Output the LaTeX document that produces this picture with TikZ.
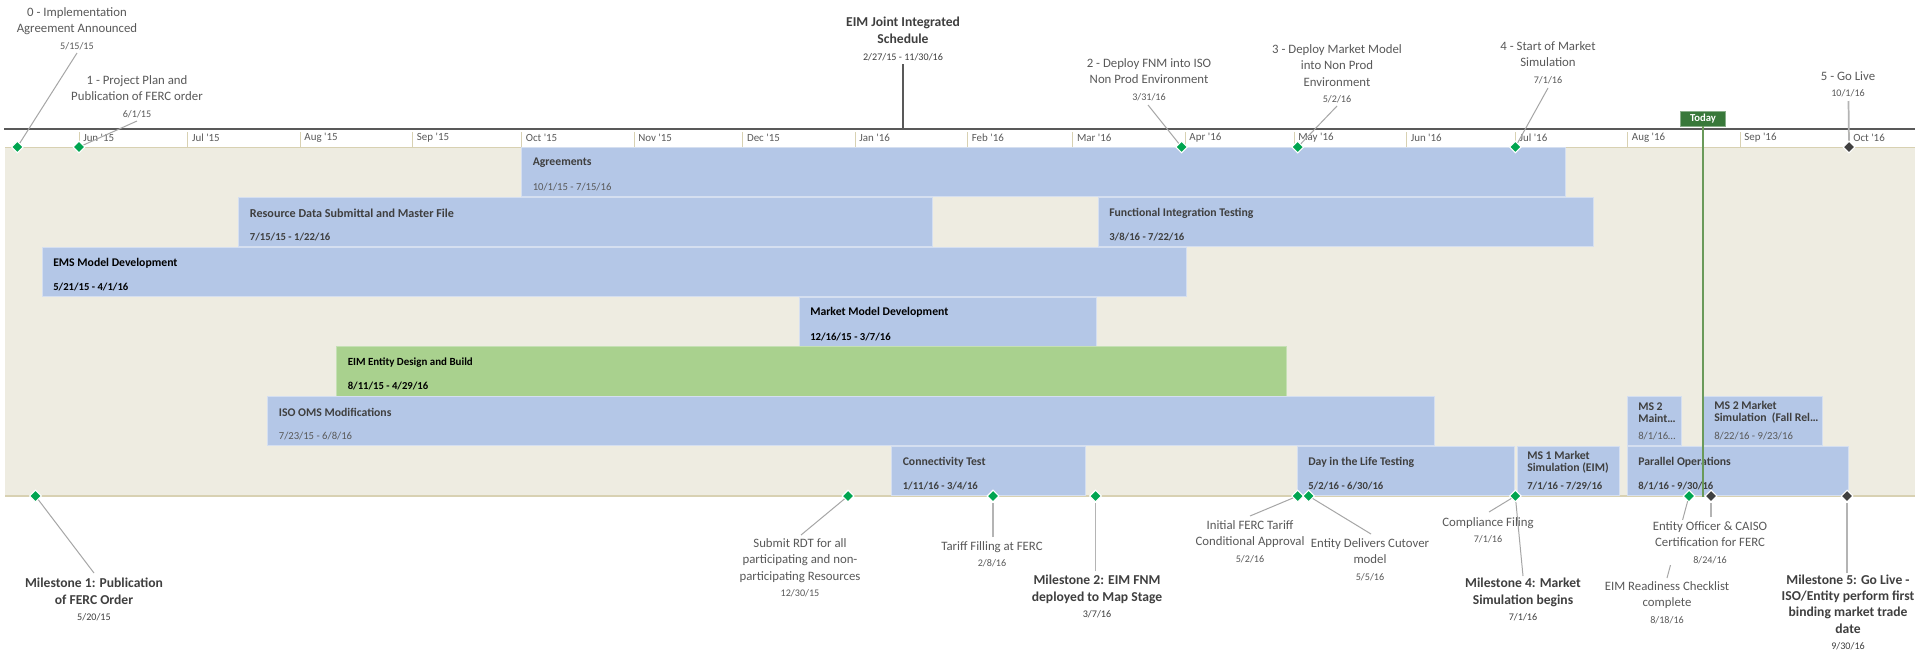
\documentclass[tikz,border=0pt]{standalone}
\usepackage{fontspec}
\setmainfont{Carlito}
\usetikzlibrary{shapes.geometric}
\definecolor{barblue}{HTML}{B4C7E7}
\definecolor{baredge}{HTML}{D5DFF0}
\definecolor{bargreen}{HTML}{A9D18E}
\definecolor{greenedge}{HTML}{C5E0B4}
\definecolor{panelbg}{HTML}{EEECE1}
\definecolor{tanline}{HTML}{D8D1B2}
\definecolor{msgreen}{HTML}{00A550}
\definecolor{msdark}{HTML}{404040}
\definecolor{todaybox}{HTML}{38783A}
\definecolor{todayline}{HTML}{6A9A5A}
\definecolor{txtgray}{HTML}{595959}
\definecolor{txtdark}{HTML}{3F3F3F}
\definecolor{leadgray}{HTML}{A6A6A6}
\definecolor{vgray}{HTML}{B4B4B4}
\definecolor{axisgray}{HTML}{595959}
\newcommand{\lbldate}[1]{{\fontsize{7.6}{12.4}\selectfont\mdseries #1}}
\newcommand{\qs}{\textquotesingle}
\begin{document}
\begin{tikzpicture}[x=0.75pt,y=-0.75pt,
  bar/.style={fill=barblue,draw=baredge,line width=0.5pt},
  gbar/.style={fill=bargreen,draw=greenedge,line width=0.5pt},
  btitle/.style={anchor=west,inner sep=0pt,text=txtdark,font=\fontsize{8.8}{9}\selectfont\bfseries},
  btitle2/.style={btitle,align=left},
  bdate/.style={anchor=west,inner sep=0pt,text=txtgray,font=\fontsize{8}{10}\selectfont},
  bdateb/.style={bdate,text=txtdark,font=\fontsize{8}{10}\selectfont\bfseries},
  msg/.style={diamond,aspect=1,fill=msgreen,draw=white,line width=0.8pt,inner sep=0pt,minimum width=9pt,minimum height=9pt},
  msd/.style={msg,fill=msdark},
  lbl/.style={align=center,inner sep=0pt,anchor=north,text=txtgray,font=\fontsize{9.6}{12.4}\selectfont},
  mlbl/.style={lbl,text=txtdark,font=\fontsize{10.2}{12.6}\selectfont\bfseries},
  leader/.style={draw=leadgray,line width=0.75pt},
  vleader/.style={draw=vgray,line width=1.3pt},
  monthlbl/.style={anchor=west,inner sep=0pt,text=txtgray,font=\fontsize{8.2}{10}\selectfont},
  tickline/.style={draw=tanline,line width=0.6pt},
]
\useasboundingbox (0,0) rectangle (1915,651);
\fill[white] (0,0) rectangle (1915,651);

% panel
\fill[panelbg] (5,147) rectangle (1915,496);
\draw[tanline,line width=0.75pt] (5,147) -- (1915,147);
\draw[tanline,line width=1pt] (5,496) -- (1915,496);

% axis
\draw[axisgray,line width=1.1pt] (4,129) -- (1915,129);
\foreach \x/\m [count=\i] in {79/Jun \qs15,187.8/Jul \qs15,300.2/Aug \qs15,412.7/Sep \qs15,521.5/Oct \qs15,634/Nov \qs15,742.8/Dec \qs15,855.2/Jan \qs16,967.6/Feb \qs16,1072.8/Mar \qs16,1185.2/Apr \qs16,1294/May \qs16,1406.5/Jun \qs16,1515.3/Jul \qs16,1627.7/Aug \qs16,1740.1/Sep \qs16,1849/Oct \qs16}{
  \draw[tickline] (\x,132) -- (\x,147);
  \node[monthlbl] (mo\i) at (\x+4,137.5) {\m};
}

% row 1
\path[bar] (521.5,147.5) rectangle (1565,196.6);
\node[btitle] (tAgr) at (532.5,163) {Agreements};
\node[bdate] (dAgr) at (532.5,187) {10/1/15 - 7/15/16};
% row 2
\path[bar] (238.6,197.2) rectangle (932,246.4);
\node[btitle,font=\fontsize{9.1}{10}\selectfont\bfseries] (tRes) at (249.6,213) {Resource Data Submittal and Master File};
\node[bdateb] (dRes) at (249.6,237) {7/15/15 - 1/22/16};
\path[bar] (1098,197.2) rectangle (1593,246.4);
\node[btitle] (tFun) at (1109,213) {Functional Integration Testing};
\node[bdateb] (dFun) at (1109,237) {3/8/16 - 7/22/16};
% row 3
\path[bar] (42,247) rectangle (1186,296.3);
\node[btitle,text=black] (tEMS) at (53,263) {EMS Model Development};
\node[bdateb,text=black] (dEMS) at (53,287) {5/21/15 - 4/1/16};
% row 4
\path[bar] (799,296.9) rectangle (1096,346.1);
\node[btitle,text=black] (tMM) at (810,312.6) {Market Model Development};
\node[bdateb,text=black] (dMM) at (810,336.6) {12/16/15 - 3/7/16};
% row 5
\path[gbar] (336.5,346.7) rectangle (1286,396);
\node[btitle,text=black,font=\fontsize{8.2}{9}\selectfont\bfseries] (tEIM) at (347.5,362.4) {EIM Entity Design and Build};
\node[bdateb,text=black,font=\fontsize{8}{9}\selectfont\bfseries] (dEIM) at (347.5,386.4) {8/11/15 - 4/29/16};
% row 6
\path[bar] (267.6,396.6) rectangle (1434,445.8);
\node[btitle] (tOMS) at (278.6,412.3) {ISO OMS Modifications};
\node[bdate] (dOMS) at (278.6,436.3) {7/23/15 - 6/8/16};
\path[bar] (1627,396.6) rectangle (1681,445.8);
\node[btitle2] (tMS2a) at (1638,412.3) {MS 2\\Maint…};
\node[bdate] (dMS2a) at (1638,436.3) {8/1/16…};
\path[bar] (1703,396.6) rectangle (1822,445.8);
\node[btitle2] (tMS2b) at (1714,412.3) {MS 2 Market\\Simulation~ (Fall Rel…};
\node[bdate] (dMS2b) at (1714,436.3) {8/22/16 - 9/23/16};
% row 7
\path[bar] (891.5,446.4) rectangle (1085,495.6);
\node[btitle] (tCon) at (902.5,462.1) {Connectivity Test};
\node[bdateb] (dCon) at (902.5,486.1) {1/11/16 - 3/4/16};
\path[bar] (1297,446.4) rectangle (1514,495.6);
\node[btitle] (tDay) at (1308,462.1) {Day in the Life Testing};
\node[bdateb] (dDay) at (1308,486.1) {5/2/16 - 6/30/16};
\path[bar] (1517,446.4) rectangle (1619,495.6);
\node[btitle2] (tMS1) at (1527,462.1) {MS 1 Market\\Simulation (EIM)};
\node[bdateb] (dMS1) at (1527,486.1) {7/1/16 - 7/29/16};
\path[bar] (1627,446.4) rectangle (1848,495.6);
\node[btitle] (tPar) at (1638,462.1) {Parallel Operations};
\node[bdateb] (dPar) at (1638,486.1) {8/1/16 - 9/30/16};

% today
\node[fill=todaybox,draw=white!40!todaybox,line width=0.6pt,text=white,font=\fontsize{8}{9}\selectfont\bfseries,minimum width=33.75pt,minimum height=11.25pt,inner sep=0pt] (today) at (1703,118.5) {Today};
\coordinate (todayend) at (1703,497);
\draw[todayline,line width=0.9pt] (today.south) -- (todayend);

% top milestones
\node[msg] (d0) at (17.3,147) {};
\node[msg] (d1) at (79,147) {};
\node[msg] (d2) at (1181.6,147) {};
\node[msg] (d3) at (1297.7,147) {};
\node[msg] (d4) at (1515.3,147) {};
\node[msd] (d5) at (1849,147) {};
% bottom milestones
\node[msg] (e1) at (35.5,496) {};
\node[msg] (e2) at (848,496) {};
\node[msg] (e3) at (993,496) {};
\node[msg] (e4) at (1095.5,496) {};
\node[msg] (e5) at (1297.7,496) {};
\node[msg] (e6) at (1308.6,496) {};
\node[msg] (e7) at (1515.3,496) {};
\node[msg] (e8) at (1689,496) {};
\node[msd] (e9) at (1711,496) {};
\node[msd] (e10) at (1847,496) {};

% leaders top
\coordinate (c0) at (77,53);
\coordinate (c1) at (137,121);
\coordinate (cJt) at (903,64);
\coordinate (cJb) at (903,129);
\coordinate (c2) at (1148,105);
\coordinate (c3) at (1337,106);
\coordinate (c4) at (1548,88);
\coordinate (c5) at (1848.5,101);
\draw[leader] (c0) -- (d0);
\draw[leader] (c1) -- (d1);
\draw[axisgray,line width=1.1pt] (cJt) -- (cJb);
\draw[leader] (c2) -- (d2);
\draw[leader] (c3) -- (d3);
\draw[leader] (c4) -- (d4);
\draw[vleader] (c5) -- (d5);
% leaders bottom
\coordinate (f1) at (94,573);
\coordinate (f2) at (801,535);
\coordinate (f3) at (993,537);
\coordinate (f4) at (1095.5,571);
\coordinate (f5) at (1250,516);
\coordinate (f6) at (1371,534);
\coordinate (f7) at (1489,512);
\coordinate (f8) at (1523,576);
\coordinate (f9) at (1711,517);
\coordinate (f10) at (1667,578);
\coordinate (f11) at (1847,573);
\draw[leader] (f1) -- (e1);
\draw[leader] (f2) -- (e2);
\draw[vleader] (f3) -- (e3);
\draw[vleader] (f4) -- (e4);
\draw[leader] (f5) -- (e5);
\draw[leader] (f6) -- (e6);
\draw[leader] (f7) -- (e7);
\draw[leader] (f8) -- (e7);
\draw[vleader,line width=1pt] (f9) -- (e9);
\draw[leader] (f10) -- (e8);
\draw[vleader] (f11) -- (e10);

% top labels
\node[lbl] (L0) at (77,7) {0 - Implementation\\Agreement Announced\\\lbldate{5/15/15}};
\node[lbl] (L1) at (137,75) {1 - Project Plan and\\Publication of FERC order\\\lbldate{6/1/15}};
\node[mlbl,font=\fontsize{10.2}{12.8}\selectfont\bfseries] (LJ) at (903,16.5) {EIM Joint Integrated\\Schedule\\\lbldate{2/27/15 - 11/30/16}};
\node[lbl] (L2) at (1149,58) {2 - Deploy FNM into ISO\\Non Prod Environment\\\lbldate{3/31/16}};
\node[lbl] (L3) at (1337,44) {3 - Deploy Market Model\\into Non Prod\\Environment\\\lbldate{5/2/16}};
\node[lbl] (L4) at (1548,41) {4 - Start of Market\\Simulation\\\lbldate{7/1/16}};
\node[lbl] (L5) at (1848,71) {5 - Go Live\\\lbldate{10/1/16}};

% bottom labels
\node[mlbl] (B1) at (94,577.5) {Milestone 1: Publication\\of FERC Order\\\lbldate{5/20/15}};
\node[lbl] (B2) at (800,538) {Submit RDT for all\\participating and non-\\participating Resources\\\lbldate{12/30/15}};
\node[lbl] (B3) at (992,541) {Tariff Filling at FERC\\\lbldate{2/8/16}};
\node[mlbl] (B4) at (1097,574.5) {Milestone 2: EIM FNM\\deployed to Map Stage\\\lbldate{3/7/16}};
\node[lbl] (B5) at (1250,520) {Initial FERC Tariff\\Conditional Approval\\\lbldate{5/2/16}};
\node[lbl] (B6) at (1370,538) {Entity Delivers Cutover\\model\\\lbldate{5/5/16}};
\node[lbl] (B7) at (1488,517) {Compliance Filing\\\lbldate{7/1/16}};
\node[mlbl] (B8) at (1523,577.5) {Milestone 4: Market\\Simulation begins\\\lbldate{7/1/16}};
\node[lbl,fill=white,inner sep=1pt] (B9) at (1710,520) {Entity Officer \& CAISO\\Certification for FERC\\\lbldate{8/24/16}};
\node[lbl] (B10) at (1667,581) {EIM Readiness Checklist\\complete\\\lbldate{8/18/16}};
\node[mlbl,font=\fontsize{10.2}{12.2}\selectfont\bfseries] (B11) at (1848,574.5) {Milestone 5: Go Live -\\ISO/Entity perform first\\binding market trade\\date\\\lbldate{9/30/16}};
\end{tikzpicture}
\end{document}
